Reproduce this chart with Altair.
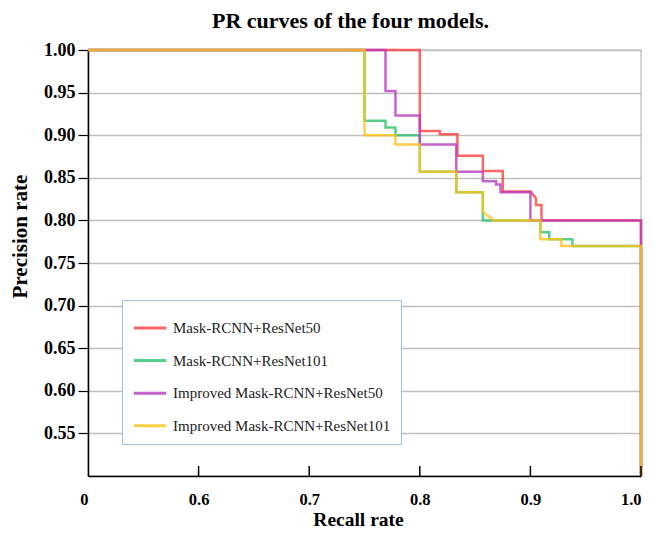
import altair as alt
import pandas as pd

series_names = [
    "Mask-RCNN+ResNet50",
    "Mask-RCNN+ResNet101",
    "Improved Mask-RCNN+ResNet50",
    "Improved Mask-RCNN+ResNet101",
]
series_colors = ["#ff4040", "#2ec46e", "#b93cc0", "#ffc21a"]

red_recall = [0, 0.8, 0.8, 0.818, 0.818, 0.834, 0.834, 0.857, 0.857, 0.875, 0.875, 0.9, 0.905, 0.905, 0.91, 0.91, 1.0, 1.0]
red_prec = [1, 1, 0.905, 0.905, 0.901, 0.901, 0.876, 0.876, 0.858, 0.858, 0.834, 0.834, 0.826, 0.818, 0.818, 0.80, 0.80, 0.5]

green_recall = [0, 0.75, 0.75, 0.769, 0.769, 0.778, 0.778, 0.8, 0.8, 0.833, 0.833, 0.857, 0.857, 0.909, 0.909, 0.917, 0.917, 0.938, 0.938, 1.0, 1.0]
green_prec = [1, 1, 0.917, 0.917, 0.909, 0.909, 0.9, 0.9, 0.857, 0.857, 0.833, 0.833, 0.8, 0.8, 0.786, 0.786, 0.778, 0.778, 0.77, 0.77, 0.5]

purple_recall = [0, 0.769, 0.769, 0.778, 0.778, 0.8, 0.8, 0.833, 0.833, 0.857, 0.857, 0.869, 0.869, 0.873, 0.873, 0.9, 0.9, 1.0, 1.0]
purple_prec = [1, 1, 0.952, 0.952, 0.923, 0.923, 0.889, 0.889, 0.857, 0.857, 0.846, 0.846, 0.842, 0.842, 0.833, 0.833, 0.8, 0.8, 0.5]

yellow_recall = [0, 0.75, 0.75, 0.778, 0.778, 0.8, 0.8, 0.833, 0.833, 0.857, 0.857, 0.867, 0.909, 0.909, 0.928, 0.928, 1.0, 1.0]
yellow_prec = [1, 1, 0.9, 0.9, 0.889, 0.889, 0.857, 0.857, 0.833, 0.833, 0.81, 0.8, 0.8, 0.778, 0.778, 0.77, 0.77, 0.5]

x_ticks = [0, 0.6, 0.7, 0.8, 0.9, 1.0]
x_inner_ticks = [0.6, 0.7, 0.8, 0.9, 1.0]
y_ticks = [0.55, 0.60, 0.65, 0.70, 0.75, 0.80, 0.85, 0.90, 0.95, 1.00]

rows = []
for name, rr, pp in zip(series_names,
                        [red_recall, green_recall, purple_recall, yellow_recall],
                        [red_prec, green_prec, purple_prec, yellow_prec]):
    for i, (r, p) in enumerate(zip(rr, pp)):
        rows.append({"model": name, "recall": r, "precision": p, "i": i})
df = pd.DataFrame(rows)
tick_df = pd.DataFrame({"t": x_inner_ticks})

W, H = 553, 426
FONT = "Liberation Serif"

xscale = alt.Scale(domain=[0, 0.6, 1.0], range=[0, W * 0.2, W], nice=False, zero=False)
yscale = alt.Scale(domain=[0.5, 1.0], nice=False, zero=False)

lines = alt.Chart(df).mark_line(strokeWidth=2.5, opacity=0.8).encode(
    x=alt.X("recall:Q", scale=xscale,
            axis=alt.Axis(values=x_ticks, title="Recall rate", grid=False, ticks=False, tickSize=0,
                          labelExpr="datum.value == 0 ? '0' : format(datum.value, '.1f')",
                          labelAlign={"condition": {"test": "datum.value == 0 || datum.value == 1", "value": "right"},
                                      "value": "center"},
                          labelFont=FONT, labelFontSize=16.5, labelFontWeight="bold", labelColor="black",
                          labelPadding=28, labelBaseline="alphabetic",
                          domainColor="black", domainWidth=1.5,
                          titleFont=FONT, titleFontSize=19.5, titleFontWeight="bold", titleColor="black",
                          titleX=270, titleY=49, titleBaseline="alphabetic", titleAnchor="start", titleAlign="center")),
    y=alt.Y("precision:Q", scale=yscale,
            axis=alt.Axis(values=y_ticks, format=".2f", title="Precision rate",
                          labelFont=FONT, labelFontSize=18, labelFontWeight="bold", labelColor="black",
                          labelPadding=3, tickSize=10, tickColor="black", tickWidth=1.2,
                          domainColor="black", domainWidth=1.5,
                          gridColor="#bfbfbf", gridWidth=1.5,
                          titleFont=FONT, titleFontSize=21, titleFontWeight="bold", titleColor="black",
                          titleAngle=270, titleX=-62, titleY=186, titleBaseline="alphabetic",
                          titleAlign="center")),
    color=alt.Color("model:N", scale=alt.Scale(domain=series_names, range=series_colors),
                    legend=alt.Legend(orient="none", legendX=34, legendY=250, title=None,
                                      direction="vertical",
                                      symbolType="stroke", symbolSize=1050, symbolStrokeWidth=3,
                                      labelFont=FONT, labelFontSize=15, labelColor="#222", labelLimit=400,
                                      labelOffset=5, padding=10, rowPadding=6.6,
                                      strokeColor="#9dc3e6", fillColor="white", cornerRadius=0)),
    order="i:Q",
)

xticks = alt.Chart(tick_df).mark_rule(color="black", strokeWidth=1.5).encode(
    x=alt.X("t:Q", scale=xscale),
    y=alt.value(H),
    y2=alt.value(H - 10),
)

chart = alt.layer(lines, xticks).properties(
    width=W, height=H,
    autosize=alt.AutoSizeParams(type="none"),
    padding={"left": 80, "top": 42, "right": 5, "bottom": 55},
    title=alt.TitleParams("PR curves of the four models.", font=FONT, fontSize=22, fontWeight="bold",
                          color="black", anchor="middle", dx=-14, offset=8),
).configure_view(stroke="#c8c8c8", strokeWidth=1.5)

chart.save("out.html", embed_options={"renderer": "svg", "actions": False})
